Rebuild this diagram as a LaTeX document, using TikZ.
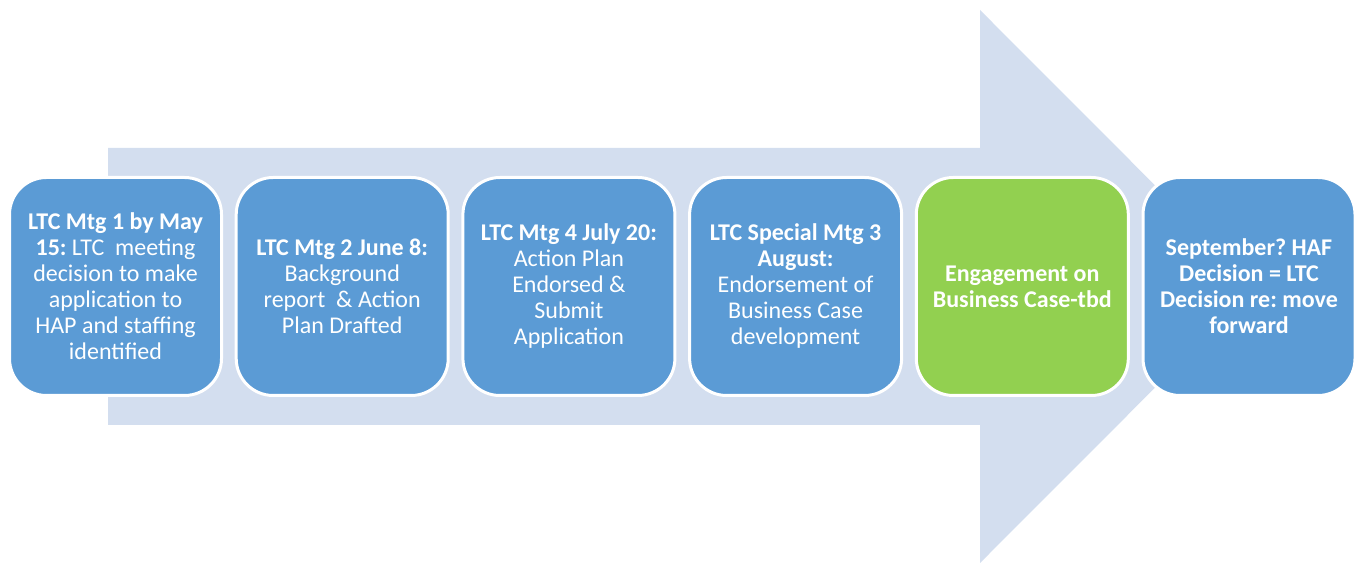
\documentclass[tikz,border=0pt]{standalone}
\usepackage{fontspec}
\setmainfont{Carlito}
\frenchspacing
\usetikzlibrary{positioning}
\definecolor{stepblue}{RGB}{91,155,213}
\definecolor{stepgreen}{RGB}{146,208,80}
\definecolor{arrowfill}{RGB}{211,222,239}
\tikzset{
  stepbox/.style={draw=white, line width=3pt, fill=stepblue, rounded corners=37pt,
    minimum width=212pt, minimum height=218pt, align=center, text=white,
    font=\fontsize{24}{26}\selectfont, inner sep=2pt},
  donebox/.style={stepbox, fill=stepgreen}
}
\begin{document}
\begin{tikzpicture}[x=1pt,y=1pt]
  \useasboundingbox (0,0) rectangle (1364,562);

  % big background arrow
  \fill[arrowfill] (108,137) -- (980,137) -- (980,-1) -- (1256,275.5)
    -- (980,552) -- (980,414) -- (108,414) -- cycle;

  \node[stepbox] (mtg1) at (115.5,275.5)
    {\textbf{LTC Mtg 1 by May}\\\textbf{15:} LTC\ \ meeting\\decision to make\\application to\\HAP and staffing\\identified};
  \node[stepbox, right=11.7pt of mtg1] (mtg2)
    {\textbf{LTC Mtg 2 June 8:}\\Background\\report\ \ \& Action\\Plan Drafted};
  \node[stepbox, right=11.7pt of mtg2] (mtg4)
    {\textbf{LTC Mtg 4 July 20:}\\Action Plan\\Endorsed \&\\Submit\\Application};
  \node[stepbox, right=11.7pt of mtg4] (special)
    {\textbf{LTC Special Mtg 3}\\\textbf{August:}\\Endorsement of\\Business Case\\development};
  \node[donebox, right=11.7pt of special] (engage)
    {\textbf{Engagement on}\\\textbf{Business Case-tbd}};
  \node[stepbox, right=11.7pt of engage] (decision)
    {\textbf{September? HAF}\\\textbf{Decision = LTC}\\\textbf{Decision re: move}\\\textbf{forward}};
\end{tikzpicture}
\end{document}
